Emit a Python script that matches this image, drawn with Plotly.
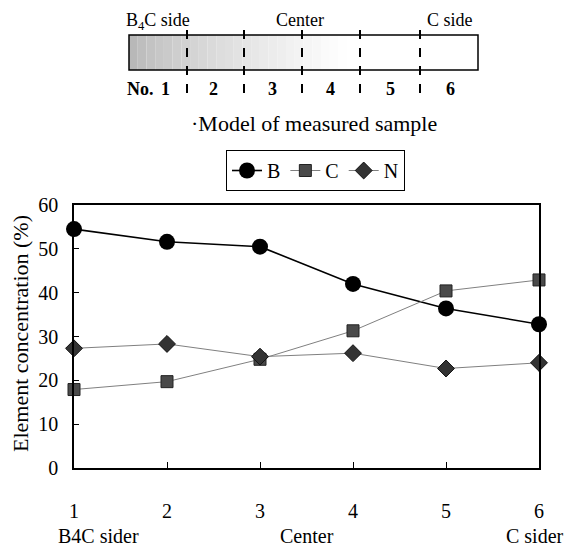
import plotly.graph_objects as go

positions = [1, 2, 3, 4, 5, 6]
b_values = [54.5, 51.6, 50.5, 42.0, 36.4, 32.8]
c_values = [17.9, 19.7, 24.8, 31.3, 40.4, 42.9]
n_values = [27.3, 28.3, 25.4, 26.2, 22.7, 24.0]
y_ticks = [0, 10, 20, 30, 40, 50, 60]
region_labels = ["B4C sider", "Center", "C sider"]
sample_numbers = ["1", "2", "3", "4", "5", "6"]

W, H = 565, 551
L, R, T, B = 74, 26, 205, 83
PW, PH = W - L - R, H - T - B
FONT = "Liberation Serif"


def px(x):
    return (x - L) / PW


def py(y):
    return (H - B - y) / PH


fig = go.Figure()
fig.add_trace(go.Scatter(
    x=positions, y=b_values, name="B", mode="lines+markers",
    line=dict(color="black", width=1.6),
    marker=dict(symbol="circle", size=16, color="black"),
    cliponaxis=False))
fig.add_trace(go.Scatter(
    x=positions, y=c_values, name="C", mode="lines+markers",
    line=dict(color="#808080", width=1),
    marker=dict(symbol="square", size=12, color="#4a4a4a",
                line=dict(color="#222222", width=1)),
    cliponaxis=False))
fig.add_trace(go.Scatter(
    x=positions, y=n_values, name="N", mode="lines+markers",
    line=dict(color="#808080", width=1),
    marker=dict(symbol="diamond", size=13, color="#333333",
                line=dict(color="#111111", width=1)),
    cliponaxis=False))

shapes = []
# stippled gradient fill of the sample model
x0, x1 = 129, 478
ytop, ybot = 35, 70
n_strips = 40
for i in range(n_strips):
    sx0 = x0 + (x1 - x0) * i / n_strips
    sx1 = x0 + (x1 - x0) * (i + 1) / n_strips
    mid = (sx0 + sx1) / 2
    t = min(max((mid - x0) / (345 - x0), 0), 1)
    g = int(180 + (255 - 180) * t ** 0.7)
    shapes.append(dict(type="rect", xref="paper", yref="paper",
                       x0=px(sx0), x1=px(sx1), y0=py(ybot), y1=py(ytop),
                       fillcolor=f"rgb({g},{g},{g})", line=dict(width=0), layer="above"))
shapes.append(dict(type="rect", xref="paper", yref="paper",
                   x0=px(x0), x1=px(x1), y0=py(ybot), y1=py(ytop),
                   line=dict(color="black", width=1.5), layer="above"))
for dx in [187, 244, 302, 360, 420]:
    shapes.append(dict(type="line", xref="paper", yref="paper",
                       x0=px(dx), x1=px(dx), y0=py(93), y1=py(28),
                       line=dict(color="black", width=2, dash="dash"), layer="above"))
fig.update_layout(shapes=shapes)


def note(text, x, y, size, angle=0):
    return dict(text=text, x=px(x), y=py(y), xref="paper", yref="paper",
                xanchor="center", yanchor="middle", showarrow=False, textangle=angle,
                font=dict(family=FONT, size=size, color="black"))


ann = [
    note("B<sub>4</sub>C side", 158, 21, 18),
    note("Center", 300, 20, 18),
    note("C side", 450, 20, 18),
    note("<b>No.</b>", 140, 89, 18),
]
for lab, xx in zip(sample_numbers, [165, 213, 272, 330, 390, 450]):
    ann.append(note(f"<b>{lab}</b>", xx, 89, 18))
ann.append(note("·Model of measured sample", 314, 123, 22))
ann.append(note("Element concentration (%)", 20, 334, 22, -90))
for lab, xx in zip(region_labels, [98, 307, 535]):
    ann.append(note(lab, xx, 536, 20))
fig.update_layout(annotations=ann)

fig.update_xaxes(range=[1, 6], tickvals=positions, ticktext=sample_numbers,
                 showline=True, mirror=True, linecolor="black", linewidth=1.5,
                 ticks="inside", ticklen=6, tickcolor="black", showgrid=False, zeroline=False,
                 ticklabelstandoff=24, tickfont=dict(family=FONT, size=20, color="black"))
fig.update_yaxes(range=[0, 60], tickvals=y_ticks,
                 showline=True, mirror=True, linecolor="black", linewidth=1.5,
                 ticks="inside", ticklen=5, tickcolor="black", showgrid=False, zeroline=False,
                 ticklabelstandoff=10, tickfont=dict(family=FONT, size=20, color="black"))

fig.update_layout(
    width=W, height=H,
    margin=dict(l=L, r=R, t=T, b=B, autoexpand=False),
    paper_bgcolor="white", plot_bgcolor="white",
    showlegend=True,
    legend=dict(orientation="h", x=px(226), y=py(150), xanchor="left", yanchor="top",
                bordercolor="black", borderwidth=1, bgcolor="white",
                font=dict(family=FONT, size=20, color="black"),
                itemwidth=30, tracegroupgap=0),
    font=dict(family=FONT, color="black"),
)

fig.write_html("out.html")
